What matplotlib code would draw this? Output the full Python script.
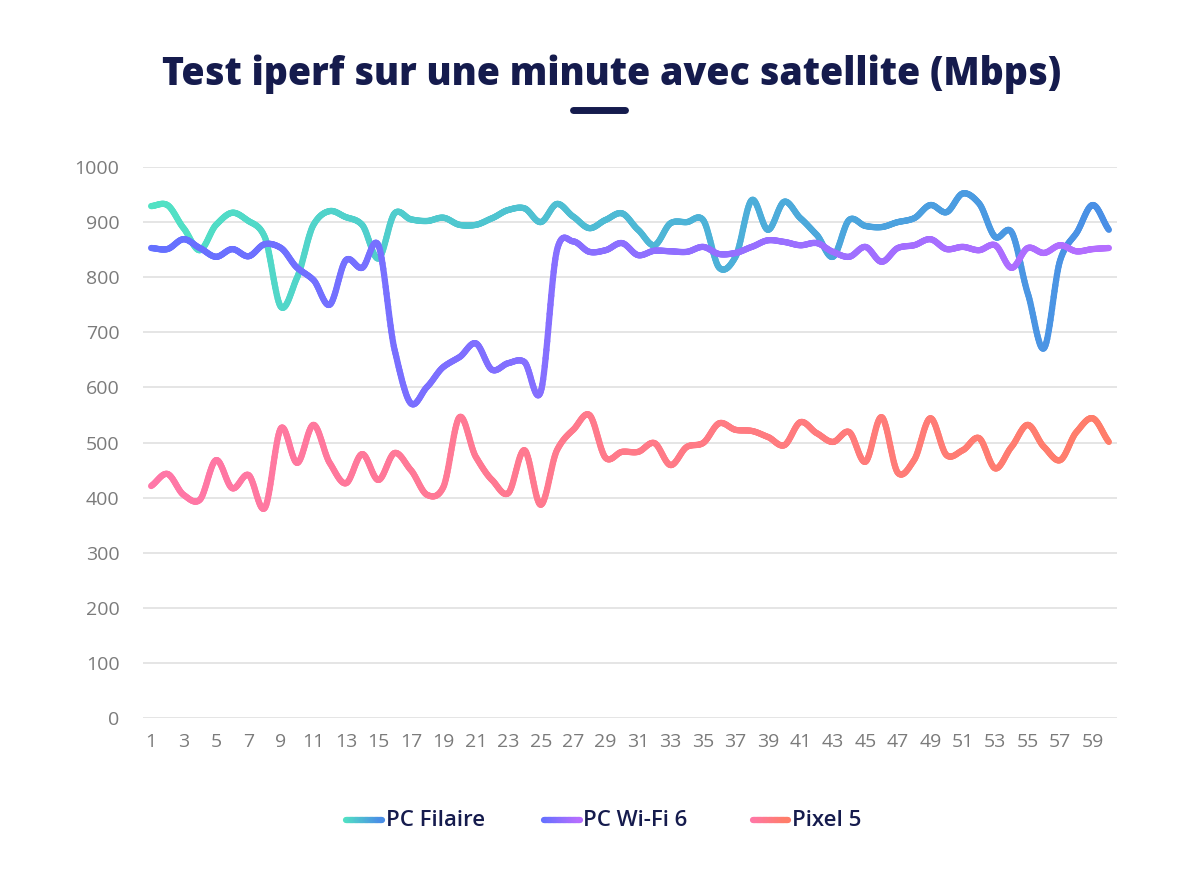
import numpy as np
import matplotlib.pyplot as plt
from matplotlib.collections import LineCollection
from matplotlib.colors import to_rgb
from matplotlib.lines import Line2D

seconds = list(range(1, 61))

pc_filaire = [929, 931, 889, 849, 895, 917, 902, 873, 746, 800,
              895, 920, 909, 895, 834, 916, 905, 902, 908, 895,
              895, 907, 922, 925, 900, 933, 910, 889, 904, 916,
              886, 858, 898, 900, 904, 817, 837, 940, 886, 937,
              907, 877, 837, 904, 893, 891, 900, 907, 931, 918,
              952, 934, 873, 882, 771, 671, 831, 880, 931, 886]

pc_wifi6 = [853, 851, 869, 853, 837, 851, 838, 860, 853, 817,
            795, 750, 831, 817, 858, 668, 571, 601, 637, 655,
            680, 632, 644, 646, 592, 849, 865, 846, 849, 862,
            840, 848, 847, 846, 855, 842, 844, 855, 867, 864,
            858, 862, 846, 837, 855, 828, 853, 858, 869, 851,
            855, 849, 858, 817, 853, 844, 858, 847, 851, 853]

pixel5 = [421, 443, 405, 396, 468, 417, 441, 381, 526, 463,
          532, 463, 426, 479, 432, 481, 450, 405, 419, 546,
          474, 432, 408, 486, 387, 486, 523, 550, 472, 483,
          483, 499, 459, 492, 499, 535, 523, 521, 510, 495,
          537, 517, 501, 519, 465, 546, 445, 468, 544, 477,
          486, 508, 453, 492, 532, 492, 468, 519, 544, 501]

names = ["PC Filaire", "PC Wi-Fi 6", "Pixel 5"]
gradients = [("#52e2c4", "#4a8fe6"), ("#6470ff", "#b56eff"), ("#ff77a8", "#ff7d6a")]

navy = "#151b4d"
font = "Open Sans"


def smooth(x, y, n=20):
    # cubic hermite through the points, slightly damped tangents
    x = np.asarray(x, float)
    y = np.asarray(y, float)
    m = np.gradient(y, x) * 0.85
    xs, ys = [], []
    for i in range(len(x) - 1):
        t = np.linspace(0, 1, n, endpoint=False)
        h = x[i + 1] - x[i]
        h00 = 2 * t**3 - 3 * t**2 + 1
        h10 = t**3 - 2 * t**2 + t
        h01 = -2 * t**3 + 3 * t**2
        h11 = t**3 - t**2
        xs.append(x[i] + t * h)
        ys.append(h00 * y[i] + h10 * h * m[i] + h01 * y[i + 1] + h11 * h * m[i + 1])
    xs.append([x[-1]])
    ys.append([y[-1]])
    return np.concatenate(xs), np.concatenate(ys)


def gradient_line(x, y, c0, c1, lw=4.5, transform=None):
    pts = np.column_stack([x, y])
    segs = np.stack([pts[:-1], pts[1:]], axis=1)
    f = np.linspace(0, 1, len(segs))[:, None]
    cols = (1 - f) * np.array(to_rgb(c0)) + f * np.array(to_rgb(c1))
    lc = LineCollection(segs, colors=cols, linewidths=lw, capstyle="round", joinstyle="round")
    if transform is not None:
        lc.set_transform(transform)
    return lc


fig = plt.figure(figsize=(12, 8.75), dpi=100)
ax = fig.add_axes([143 / 1200, 1 - 718 / 875, 974 / 1200, 551 / 875])

for vals, (c0, c1) in zip([pc_filaire, pc_wifi6, pixel5], gradients):
    sx, sy = smooth(seconds, vals)
    ax.add_collection(gradient_line(sx, sy, c0, c1))

ax.set_xlim(0.5, 60.5)
ax.set_ylim(0, 1000)
ax.set_yticks(range(0, 1001, 100))
ax.set_xticks(seconds[::2])
ax.grid(axis="y", color="#e3e3e3", linewidth=1.3)
ax.set_axisbelow(True)
for s in ax.spines.values():
    s.set_visible(False)
ax.tick_params(length=0, labelsize=14, labelcolor="#7b7b7b", pad=11)
ax.tick_params(axis="y", pad=17)
for lab in ax.get_xticklabels() + ax.get_yticklabels():
    lab.set_fontfamily(font)

fig.text(612 / 1200, 1 - 74 / 875, "Test iperf sur une minute avec satellite (Mbps)",
         ha="center", va="center", fontsize=27, fontweight="heavy", color=navy, family=font)
fig.add_artist(Line2D([573 / 1200, 625 / 1200], [1 - 110 / 875] * 2, color=navy,
                      linewidth=5, solid_capstyle="round"))

# legend with gradient handles
leg_items = [(346, 382, 386), (544, 580, 583), (753, 788, 792)]
ly = 1 - 820 / 875
for (x0, x1, tx), name, (c0, c1) in zip(leg_items, names, gradients):
    lx = np.linspace(x0 / 1200, x1 / 1200, 30)
    fig.add_artist(gradient_line(lx, np.full_like(lx, ly), c0, c1, lw=4.5,
                                 transform=fig.transFigure))
    fig.text(tx / 1200, ly, name, ha="left", va="center", fontsize=16,
             fontweight="semibold", color=navy, family=font)

fig.savefig("out.png", dpi=100, facecolor="white")
